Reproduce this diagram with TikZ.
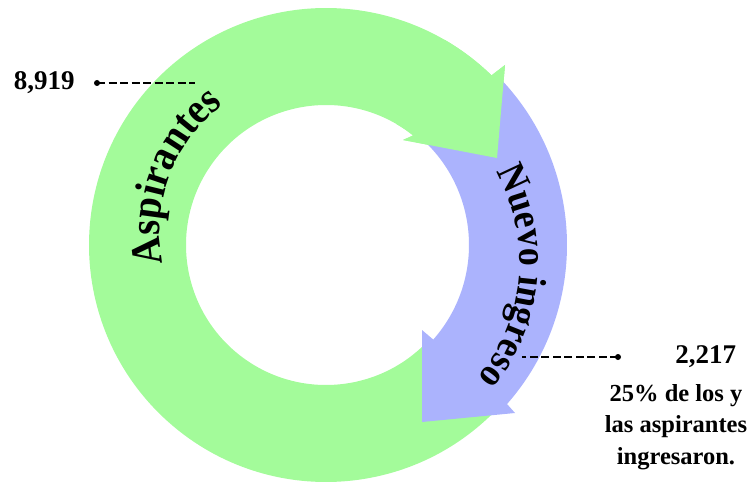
\documentclass[tikz,border=0pt]{standalone}
\usepackage{fontspec}
\setmainfont{Liberation Serif}
\newfontfamily\anillofont[FakeStretch=0.9]{Liberation Serif}
\usepackage{xcolor}
\usetikzlibrary{positioning, calc, decorations.text}

\definecolor{verdeanillo}{RGB}{163,251,154}
\definecolor{azulanillo}{RGB}{171,179,253}
\newcommand{\fuenteanillo}{\anillofont\fontsize{40}{42}\selectfont\bfseries}
\newcommand{\fuenteaspir}{\anillofont\fontsize{43}{45}\selectfont\bfseries}

\begin{document}
\begin{tikzpicture}[
    x=1pt, y=1pt,
    % Estilo de los rellenos
    verde/.style = {fill=verdeanillo},
    azul/.style = {fill=azulanillo},
    % Punto al final de las guias
    punto/.style = {circle, fill=black, inner sep=0pt, minimum size=6pt},
    % Linea punteada de las guias
    guia/.style = {draw=black, line width=1.2pt, dash pattern=on 8pt off 3.5pt},
    % Cifras grandes
    cifra/.style = {inner sep=0pt, font=\fontsize{27}{30}\selectfont\bfseries},
    % Texto explicativo
    nota/.style = {inner sep=0pt, align=center, font=\fontsize{24.5}{31.5}\selectfont\bfseries}
]
    \useasboundingbox (0,0) rectangle (754,483);

    % --- CENTROS ---
    \coordinate (C) at (326,238);
    \coordinate (Ca) at (315,253);
    \coordinate (Cn) at (336.6,221.6);

    % --- FLECHA VERDE (Aspirantes) ---
    \fill [verde] ($(C)+(-42.5:237)$) arc[start angle=-42.5, end angle=-314.3, radius=237]
        -- (505,418) -- (497,325) -- (403,343)
        -- ($(C)+(51.5:140)$) arc[start angle=-308.5, end angle=-42.5, radius=140] -- cycle;

    % --- FLECHA AZUL (Nuevo ingreso) ---
    \fill [azul] ($(C)+(44:241)$) arc[start angle=44, end angle=-41.3, radius=241]
        -- (515,70) -- (422,61) -- (422,153)
        -- ($(C)+(-41.4:143)$) arc[start angle=-41.4, end angle=47, radius=143] -- cycle;

    % Punta verde otra vez, encima de la cola azul
    \fill [verde] ($(C)+(60:237)$) arc[start angle=60, end angle=45.7, radius=237]
        -- (505,418) -- (497,325) -- (403,343)
        -- ($(C)+(51.5:140)$) arc[start angle=51.5, end angle=60, radius=140] -- cycle;

    % --- TEXTOS CURVOS ---
    \path [decorate, decoration={text along path, text align=center,
        text={|\fuenteaspir|Aspirantes}}]
        (Ca) ++(204.3:155) arc[start angle=204.3, end angle=114.3, radius=155];
    \path [decorate, decoration={text along path, text align=center,
        text={|\fuenteanillo|Nuevo ingreso}}]
        (Cn) ++(35:183) arc[start angle=35, end angle=-45.2, radius=183];

    % --- GUIAS Y CIFRAS ---
    \node [punto] (p1) at (97,400) {};
    \coordinate (f1) at (195,400);
    \draw [guia] (p1.center) -- (f1);
    \node [cifra, left=19pt of p1] (aspirantes) {8,919};

    \node [punto] (p2) at (618,126) {};
    \coordinate (f2) at (522,126);
    \draw [guia] (p2.center) -- (f2);
    \node [cifra, right=54pt of p2] (ingreso) {2,217};

    \node [nota] (nota) at (676,56.3) {25\% de los y\\las aspirantes\\ingresaron.};

\end{tikzpicture}
\end{document}
